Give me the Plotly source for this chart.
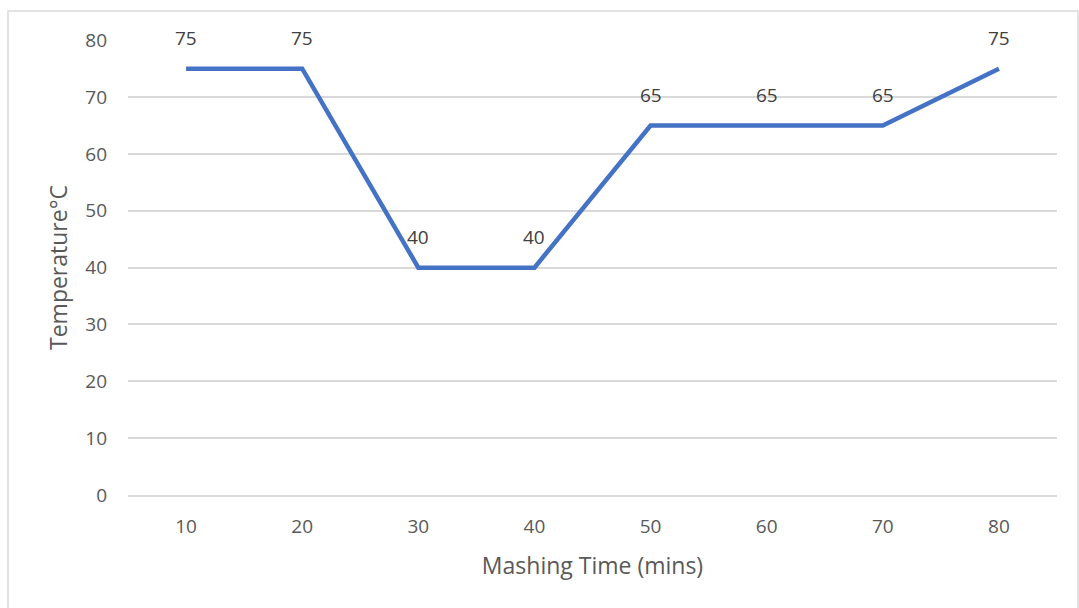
import plotly.graph_objects as go

time_labels = ["10", "20", "30", "40", "50", "60", "70", "80"]
temperature = [75, 75, 40, 40, 65, 65, 65, 75]
y_ticks = [0, 10, 20, 30, 40, 50, 60, 70, 80]

font_family = "Open Sans, Liberation Sans, sans-serif"

fig = go.Figure()
fig.add_trace(go.Scatter(
    x=time_labels, y=temperature, mode="lines",
    line=dict(color="#4472C4", width=4.5),
    cliponaxis=False, showlegend=False, hoverinfo="skip",
))

annotations = [
    dict(x=i, y=v, text=str(v), showarrow=False, yshift=31, xref="x", yref="y",
         font=dict(size=19, color="#404040", family=font_family))
    for i, v in enumerate(temperature)
]

fig.update_layout(
    width=1079, height=608,
    margin=dict(l=128, r=22, t=40, b=113),
    paper_bgcolor="white", plot_bgcolor="white",
    font=dict(family=font_family, color="#595959", size=19),
    xaxis=dict(type="category", range=[-0.5, 7.5], showgrid=False,
               showline=True, linecolor="#D9D9D9", linewidth=1.5,
               zeroline=False, ticks="", ticklabelstandoff=13,
               title=dict(text="Mashing Time (mins)", font=dict(size=23, color="#595959"), standoff=20),
               tickfont=dict(size=19, color="#595959")),
    yaxis=dict(range=[0, 80.05], tickvals=y_ticks, showgrid=True, gridcolor="#D9D9D9",
               gridwidth=1.5, zeroline=False, showline=False, ticks="", ticklabelstandoff=20,
               title=dict(text="Temperature°C", font=dict(size=23, color="#595959"), standoff=11),
               tickfont=dict(size=19, color="#595959")),
    annotations=annotations,
    shapes=[dict(type="rect", xref="paper", yref="paper",
                 x0=-120/929, x1=1.0 + 21/929, y0=-120/455, y1=1 + 29/455,
                 line=dict(color="#D9D9D9", width=1.5), fillcolor="rgba(0,0,0,0)", layer="below")],
)
fig.update_xaxes(automargin=False)
fig.update_yaxes(automargin=False)

fig.write_html("out.html", config={"displayModeBar": False},
               post_script="document.body.style.margin='0px';")
